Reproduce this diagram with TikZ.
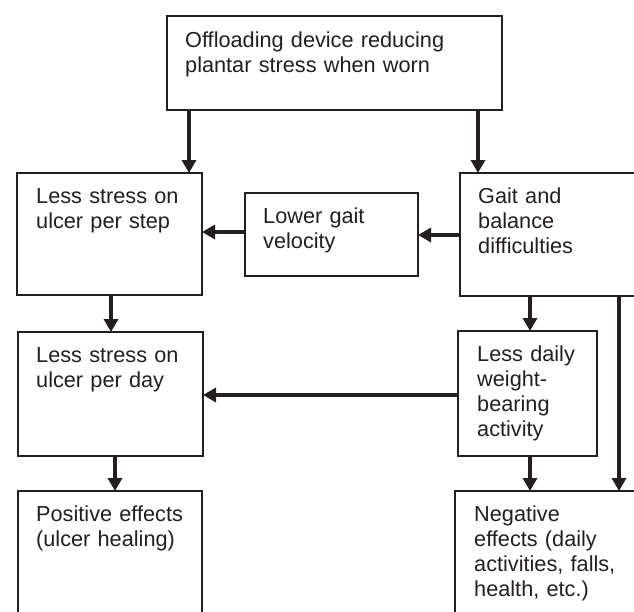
\documentclass[tikz,border=0pt]{standalone}
\usepackage{fontspec}
\setmainfont{Liberation Sans}
\usetikzlibrary{arrows.meta}
\definecolor{ink}{RGB}{35,31,32}
\begin{document}
\begin{tikzpicture}[x=1pt,y=-1pt,
  box/.style={draw=ink, line width=2pt, rectangle, inner sep=0pt, outer sep=0pt, anchor=north west},
  txt/.style={inner sep=0pt, anchor=base west, text width=300pt, align=left, text=ink,
    font=\fontsize{21.7}{25}\selectfont},
  arr/.style={draw=ink, line width=3.8pt, -{Triangle[length=13pt,width=14pt]}}]
\useasboundingbox (0,0) rectangle (634,611);
\clip (0,0) rectangle (634,611);
\fill[white] (0,0) rectangle (634,611);
% boxes
\node[box, minimum width=335pt, minimum height=94pt] (top) at (167,16) {};
\node[box, minimum width=185pt, minimum height=122pt] (step) at (17,173) {};
\node[box, minimum width=173pt, minimum height=83pt] (lgv) at (245,193) {};
\node[box, minimum width=190pt, minimum height=123pt] (gait) at (460,173) {};
\node[box, minimum width=185pt, minimum height=124pt] (day) at (18,332) {};
\node[box, minimum width=139pt, minimum height=125pt] (ldw) at (458,331) {};
\node[box, minimum width=184pt, minimum height=140pt] (pos) at (18,491) {};
\node[box, minimum width=195pt, minimum height=140pt] (neg) at (455,491) {};
% texts
\node[txt] (toptxt) at ([shift={(18,31)}]top.north west) {Offloading device reducing\\plantar stress when worn};
\node[txt] (steptxt) at ([shift={(19,30)}]step.north west) {Less stress on\\ulcer per step};
\node[txt] (lgvtxt) at ([shift={(18,30)}]lgv.north west) {Lower gait\\velocity};
\node[txt] (gaittxt) at ([shift={(18,30)}]gait.north west) {Gait and\\balance\\difficulties};
\node[txt] (daytxt) at ([shift={(18,30)}]day.north west) {Less stress on\\ulcer per day};
\node[txt] (ldwtxt) at ([shift={(19,30)}]ldw.north west) {Less daily\\weight-\\bearing\\activity};
\node[txt] (postxt) at ([shift={(18,30)}]pos.north west) {Positive effects\\(ulcer healing)};
\node[txt] (negtxt) at ([shift={(19,30)}]neg.north west) {Negative\\effects (daily\\activities, falls,\\health, etc.)};
% connectors
\draw[arr] (189,0 |- top.south) -- (189,0 |- step.north);
\draw[arr] (478,0 |- top.south) -- (478,0 |- gait.north);
\draw[arr] (0,232 -| lgv.west) -- (0,232 -| step.east);
\draw[arr] (0,235 -| gait.west) -- (0,235 -| lgv.east);
\draw[arr] (111,0 |- step.south) -- (111,0 |- day.north);
\draw[arr] (530,0 |- gait.south) -- (530,0 |- ldw.north);
\draw[arr] (0,395 -| ldw.west) -- (0,395 -| day.east);
\draw[arr] (115,0 |- day.south) -- (115,0 |- pos.north);
\draw[arr] (530,0 |- ldw.south) -- (530,0 |- neg.north);
\draw[arr] (619,0 |- gait.south) -- (619,0 |- neg.north);
\end{tikzpicture}
\end{document}
